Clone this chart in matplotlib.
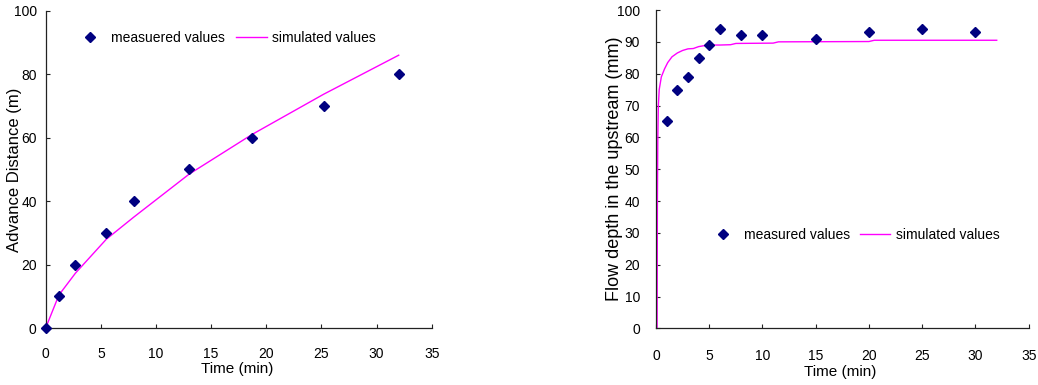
import matplotlib
matplotlib.use("Agg")
import matplotlib.pyplot as plt

plt.rcParams['font.family'] = ['Liberation Sans', 'DejaVu Sans']

# 左图：推进距离
adv_t_meas = [0, 1.2, 2.7, 5.5, 8, 13, 18.7, 25.2, 32]
adv_d_meas = [0, 10, 20, 30, 40, 50, 60, 70, 80]
adv_t_sim = [0, 1.2, 2.7, 5.5, 8, 13, 18.7, 25.2, 32]
adv_d_sim = [0, 10.4, 17.3, 28, 35, 48.5, 61, 73.7, 86]

# 右图：上游水深
dep_t_meas = [1, 2, 3, 4, 5, 6, 8, 10, 15, 20, 25, 30]
dep_h_meas = [65, 75, 79, 85, 89, 94, 92, 92, 91, 93, 94, 93]
dep_t_sim = [0.1, 0.13, 0.17, 0.22, 0.3, 0.5, 0.8, 1.1, 1.5, 2.0, 2.5, 3.0,
             3.5, 4.0, 4.5, 5.0, 6, 7, 7.5, 11, 11.5, 20, 20.5, 32]
dep_h_sim = [0, 40, 60, 70, 75, 79, 81.5, 83.5, 85.3, 86.5, 87.3, 87.8,
             87.9, 88.5, 88.8, 89, 89, 89.1, 89.5, 89.6, 90, 90.1, 90.5, 90.5]

marker_color = '#000080'
line_color = '#FF00FF'

fig = plt.figure(figsize=(10.38, 3.85), dpi=100)
ax1 = fig.add_axes([0.044, 0.148, 0.372, 0.824])
ax2 = fig.add_axes([0.632, 0.147, 0.359, 0.827])


def style_axes(ax, ymax, ystep, ypad, xpad):
    for s in ['top', 'right']:
        ax.spines[s].set_visible(False)
    for s in ['left', 'bottom']:
        ax.spines[s].set_color('#222222')
        ax.spines[s].set_linewidth(0.9)
    ax.set_xlim(0, 35)
    ax.set_ylim(0, ymax)
    ax.set_xticks(range(0, 36, 5))
    ax.set_yticks(range(0, ymax + 1, ystep))
    ax.tick_params(axis='both', direction='in', length=3, width=0.8,
                   labelsize=10, colors='#222222', labelcolor='black')
    ax.tick_params(axis='y', pad=ypad)
    ax.tick_params(axis='x', pad=xpad)


# 左图
ax1.plot(adv_t_meas, adv_d_meas, linestyle='none', marker='D', markersize=5.5,
         color=marker_color, label='measuered values', clip_on=False, zorder=3)
ax1.plot(adv_t_sim, adv_d_sim, color=line_color, linewidth=1.0,
         label='simulated values', zorder=2)
style_axes(ax1, 100, 20, 6.5, 14)
ax1.set_xlabel('Time (min)', fontsize=11)
ax1.xaxis.set_label_coords(0.497, -0.107)
ax1.set_ylabel('Advance Distance (m)', fontsize=12)
ax1.yaxis.set_label_coords(-0.062, 0.5)
ax1.legend(loc='center left', bbox_to_anchor=(0.058, 0.915), ncol=2,
           frameon=False, borderpad=0, handlelength=2.2, handletextpad=0.4,
           columnspacing=0.8, fontsize=10)

# 右图
ax2.plot(dep_t_meas, dep_h_meas, linestyle='none', marker='D', markersize=5.5,
         color=marker_color, label='measured values', zorder=3)
ax2.plot(dep_t_sim, dep_h_sim, color=line_color, linewidth=1.0,
         label='simulated values', zorder=2)
style_axes(ax2, 100, 10, 11.5, 15)
ax2.set_xlabel('Time (min)', fontsize=11)
ax2.xaxis.set_label_coords(0.494, -0.115)
ax2.set_ylabel('Flow depth in the upstream (mm)', fontsize=13)
ax2.yaxis.set_label_coords(-0.0885, 0.5)
ax2.legend(loc='center left', bbox_to_anchor=(0.12, 0.293), ncol=2,
           frameon=False, borderpad=0, handlelength=2.2, handletextpad=0.4,
           columnspacing=0.7, fontsize=10)

fig.savefig('out.png', dpi=100)
